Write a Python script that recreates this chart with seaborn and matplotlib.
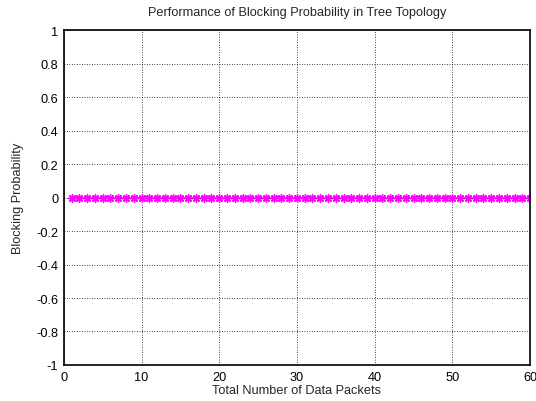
import matplotlib
matplotlib.use("Agg")
import matplotlib.pyplot as plt
import seaborn as sns
import numpy as np
import pandas as pd

packets = list(range(1, 61))
blocking = [0.0] * 60
xticks = [0, 10, 20, 30, 40, 50, 60]
yticks = [-1, -0.8, -0.6, -0.4, -0.2, 0, 0.2, 0.4, 0.6, 0.8, 1]
ytick_labels = ["-1", "-0.8", "-0.6", "-0.4", "-0.2", "0", "0.2", "0.4", "0.6", "0.8", "1"]

sns.set_style("white")
plt.rcParams['font.family'] = ['Liberation Sans', 'DejaVu Sans']

df = pd.DataFrame({"packets": packets, "blocking": blocking})

fig = plt.figure(figsize=(5.36, 4.02), dpi=100)
ax = fig.add_axes([0.119, 0.0896, 0.870, 0.833])
sns.lineplot(data=df, x="packets", y="blocking", ax=ax, color="#ff00ff",
             marker=(8, 2, 0), markersize=6, markeredgecolor="#ff00ff",
             markeredgewidth=1.0, linewidth=1.2)
ax.set_xlim(0, 60)
ax.set_ylim(-1, 1)
ax.set_xticks(xticks)
ax.set_xticklabels([str(t) for t in xticks])
ax.set_yticks(yticks)
ax.set_yticklabels(ytick_labels)
ax.grid(True, linestyle=(0, (1, 2)), color="black", linewidth=0.6)
ax.tick_params(direction="in", length=3, labelsize=9.2, colors="black", pad=4)
for s in ax.spines.values():
    s.set_color("black")
    s.set_linewidth(1.2)
ax.set_xlabel("Total Number of Data Packets", fontsize=9.2, labelpad=1)
ax.set_ylabel("Blocking Probability", fontsize=9.2, labelpad=9)
ax.set_title("Performance of Blocking Probability in Tree Topology", fontsize=9.2, pad=11)
fig.savefig("out.png", dpi=100)
